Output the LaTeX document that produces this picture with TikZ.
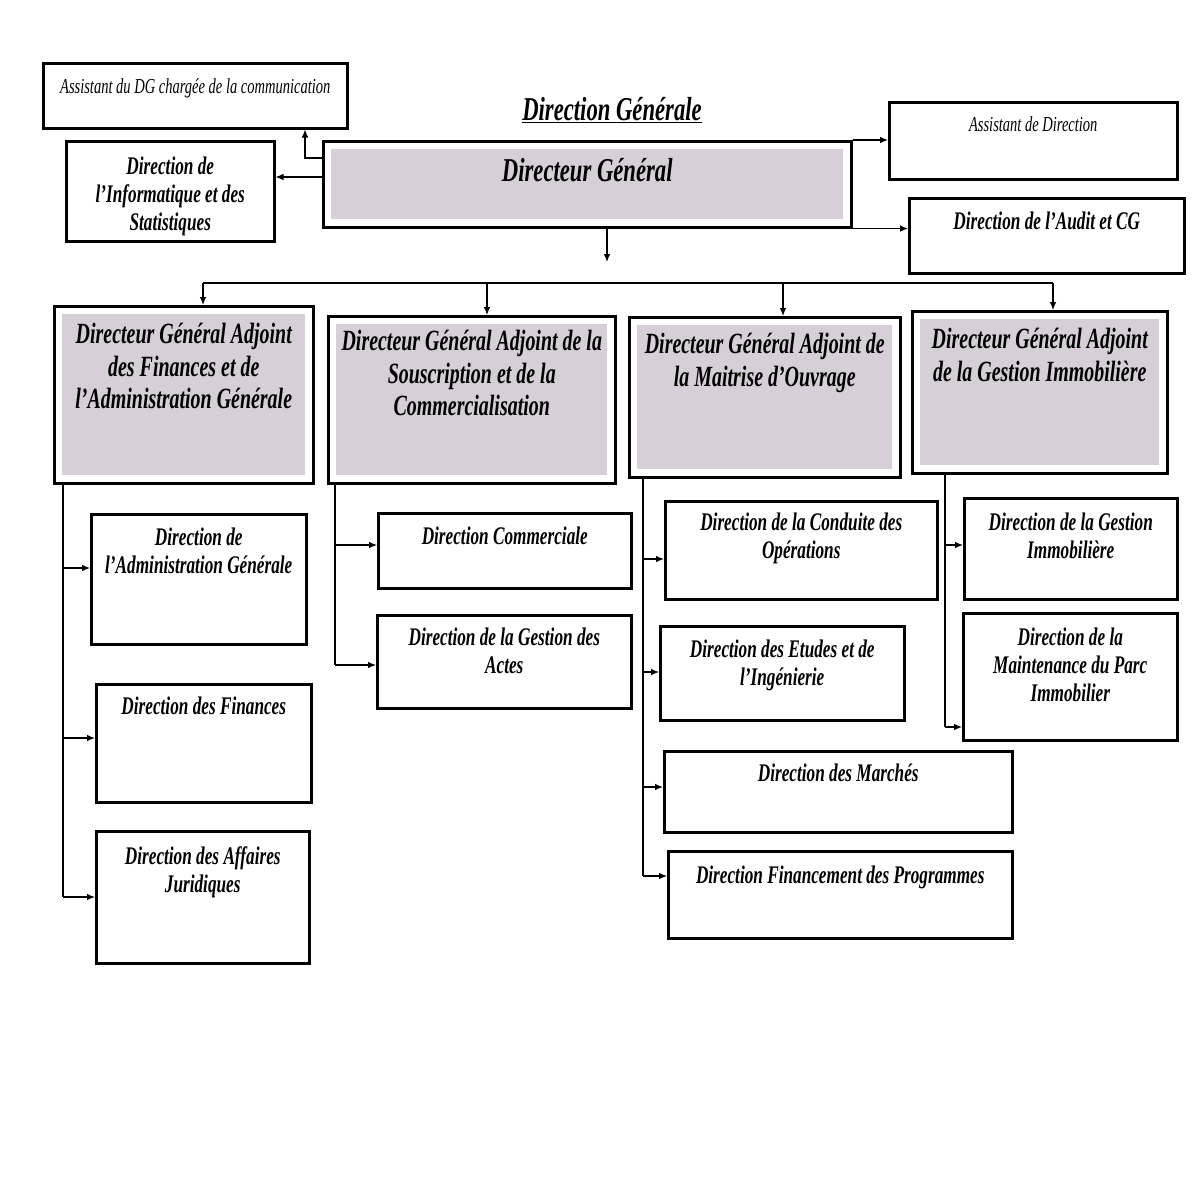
\documentclass[tikz,border=0pt]{standalone}
\usepackage{fontspec}
\setmainfont{Liberation Serif}[FakeStretch=0.68]
\usetikzlibrary{arrows.meta,calc}
\definecolor{shadecol}{RGB}{214,207,215}
\begin{document}
\begin{tikzpicture}[x=0.75pt,y=-0.75pt,
  box/.style={draw, line width=1.9pt, inner sep=0pt, anchor=north west, fill=white},
  shaded/.style={box, path picture={\fill[shadecol] ([shift={(6pt,-6pt)}]path picture bounding box.north west) rectangle ([shift={(-6pt,6pt)}]path picture bounding box.south east);}},
  sub/.style={font=\fontsize{19}{21}\selectfont\bfseries\itshape, align=center, inner sep=0pt, anchor=north},
  dgaf/.style={font=\fontsize{22}{24.5}\selectfont\bfseries\itshape, align=center, inner sep=0pt, anchor=north},
  bigf/.style={font=\fontsize{25}{28}\selectfont\bfseries\itshape, align=center, inner sep=0pt, anchor=north},
  small/.style={font=\fontsize{16}{18}\selectfont\itshape, align=center, inner sep=0pt, anchor=north},
  conn/.style={line width=0.9pt},
  arr/.style={conn, -{Latex[length=6pt,width=5pt]}}
]
\fill[white] (0,0) rectangle (1204,1178);
\useasboundingbox (0,0) rectangle (1204,1178);

% title
\node[bigf, anchor=center] (title) at (612,110) {\underline{Direction Générale}};

% top level
\node[box, minimum width=228pt, minimum height=48.75pt, label={[small, yshift=-12.5pt]north:{Assistant du DG chargée de la communication}}] (asst) at (42,62) {};
\node[box, minimum width=156pt, minimum height=75pt, label={[sub, yshift=-12.75pt]north:{Direction de\\l’Informatique et des\\Statistiques}}] (info) at (65,140) {};
\node[shaded, minimum width=396pt, minimum height=64.5pt, label={[bigf, yshift=-13.9pt]north:{Directeur Général}}] (dg) at (322,140) {};
\node[box, minimum width=216pt, minimum height=57.75pt, label={[small, yshift=-11.75pt]north:{Assistant de Direction}}] (asd) at (888,101) {};
\node[box, minimum width=206.25pt, minimum height=56.25pt, label={[sub, yshift=-11.25pt]north:{Direction de l’Audit et CG}}] (audit) at (908,197) {};

% DGA
\node[shaded, minimum width=194.25pt, minimum height=132.75pt, label={[dgaf, yshift=-13.5pt]north:{Directeur Général Adjoint\\des Finances et de\\l’Administration Générale}}] (dga1) at (53,305) {};
\node[shaded, minimum width=215.25pt, minimum height=125.25pt, label={[dgaf, yshift=-11.25pt]north:{Directeur Général Adjoint de la\\Souscription et de la\\Commercialisation}}] (dga2) at (327,315) {};
\node[shaded, minimum width=203.25pt, minimum height=120pt, label={[dgaf, yshift=-12.75pt]north:{Directeur Général Adjoint de\\la Maitrise d’Ouvrage}}] (dga3) at (628,316) {};
\node[shaded, minimum width=191.25pt, minimum height=121.5pt, label={[dgaf, yshift=-13.5pt]north:{Directeur Général Adjoint\\de la Gestion Immobilière}}] (dga4) at (911,310) {};

% column 1
\node[box, minimum width=161.25pt, minimum height=97.5pt, label={[sub, yshift=-11.25pt]north:{Direction de\\l’Administration Générale}}] (adm) at (90,513) {};
\node[box, minimum width=161.25pt, minimum height=88.5pt, label={[sub, yshift=-10.5pt]north:{Direction des Finances}}] (fin) at (95,683) {};
\node[box, minimum width=159.75pt, minimum height=99pt, label={[sub, yshift=-12pt]north:{Direction des Affaires\\Juridiques}}] (jur) at (95,830) {};

% column 2
\node[box, minimum width=189.75pt, minimum height=56.25pt, label={[sub, yshift=-11.25pt]north:{Direction Commerciale}}] (com) at (377,512) {};
\node[box, minimum width=190.5pt, minimum height=69.75pt, label={[sub, yshift=-10.5pt]north:{Direction de la Gestion des\\Actes}}] (act) at (376,614) {};

% column 3
\node[box, minimum width=204pt, minimum height=73.5pt, label={[sub, yshift=-9.75pt]north:{Direction de la Conduite des\\Opérations}}] (cond) at (664,500) {};
\node[box, minimum width=183pt, minimum height=70.5pt, label={[sub, yshift=-11.25pt]north:{Direction des Etudes et de\\l’Ingénierie}}] (etu) at (659,625) {};
\node[box, minimum width=261pt, minimum height=60.75pt, label={[sub, yshift=-10.5pt]north:{Direction des Marchés}}] (mar) at (663,750) {};
\node[box, minimum width=258pt, minimum height=65.25pt, label={[sub, yshift=-12pt]north:{Direction Financement des Programmes}}] (finp) at (667,850) {};

% column 4
\node[box, minimum width=159.75pt, minimum height=75.75pt, label={[sub, yshift=-12pt]north:{Direction de la Gestion\\Immobilière}}] (gim) at (963,497) {};
\node[box, minimum width=160.5pt, minimum height=95.25pt, label={[sub, yshift=-12pt]north:{Direction de la\\Maintenance du Parc\\Immobilier}}] (maint) at (962,612) {};

% connectors top
\coordinate (c305) at (305,158);
\draw[arr] ($(dg.north west)+(0,18)$) -| (c305 |- asst.south);
\draw[arr] ($(dg.north west)+(0,37)$) -- ($(info.north east)+(0,37)$);
\draw[arr] (dg.north east) -- (dg.north east -| asd.west);
\draw[arr] (dg.south east) -- (dg.south east -| audit.west);
\coordinate (dgo) at (607,262);
\draw[arr] (dgo |- dg.south) -- (dgo);

% bus
\coordinate (b1) at (203,283);
\coordinate (b2) at (487,283);
\coordinate (b3) at (783,283);
\coordinate (b4) at (1053,283);
\draw[conn] (b1) -- (b4);
\draw[arr] (b1) -- (b1 |- dga1.north);
\draw[arr] (b2) -- (b2 |- dga2.north);
\draw[arr] (b3) -- (b3 |- dga3.north);
\draw[arr] (b4) -- (b4 |- dga4.north);

% column 1 connectors
\coordinate (k1a) at (63,568);
\coordinate (k1b) at (63,738);
\coordinate (k1c) at (63,897);
\draw[conn] (k1a |- dga1.south) -- (k1c);
\draw[arr] (k1a) -- (k1a -| adm.west);
\draw[arr] (k1b) -- (k1b -| fin.west);
\draw[arr] (k1c) -- (k1c -| jur.west);

% column 2 connectors
\coordinate (k2a) at (335,545);
\coordinate (k2b) at (335,665);
\draw[conn] (k2a |- dga2.south) -- (k2b);
\draw[arr] (k2a) -- (k2a -| com.west);
\draw[arr] (k2b) -- (k2b -| act.west);

% column 3 connectors
\coordinate (k3a) at (643,559);
\coordinate (k3b) at (643,672);
\coordinate (k3c) at (643,787);
\coordinate (k3d) at (643,876);
\draw[conn] (k3a |- dga3.south) -- (k3d);
\draw[arr] (k3a) -- (k3a -| cond.west);
\draw[arr] (k3b) -- (k3b -| etu.west);
\draw[arr] (k3c) -- (k3c -| mar.west);
\draw[arr] (k3d) -- (k3d -| finp.west);

% column 4 connectors
\coordinate (k4a) at (945,545);
\coordinate (k4b) at (945,727);
\draw[conn] (k4a |- dga4.south) -- (k4b);
\draw[arr] (k4a) -- (k4a -| gim.west);
\draw[arr] (k4b) -- (k4b -| maint.west);
\end{tikzpicture}
\end{document}
